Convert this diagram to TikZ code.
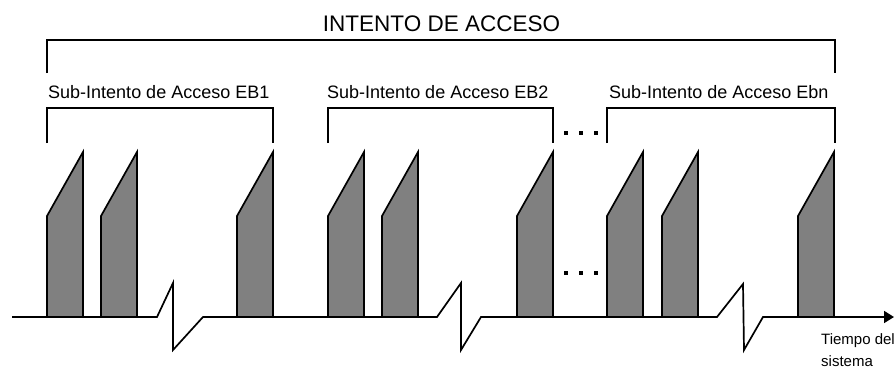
\documentclass[tikz,border=0pt]{standalone}
\usepackage{fontspec}
\setmainfont{Liberation Sans}
\usetikzlibrary{arrows.meta}

\tikzset{
  pulso/.style={draw, fill=gray, line width=1.7pt, line join=miter},
  llave/.style={draw, line width=1.7pt},
  etiq/.style={anchor=base west, inner sep=0pt, font=\fontsize{18}{21}\selectfont},
}

\begin{document}
\begin{tikzpicture}[x=1pt, y=-1pt]
		\useasboundingbox (0,0) rectangle (895,368);
		% titulo y llave principal
		\node[anchor=base, inner sep=0pt, font=\fontsize{22.5}{26}\selectfont] (titulo) at (441.5,31) {INTENTO DE ACCESO};
		\coordinate (a1) at (47,73);
		\coordinate (a2) at (835,73);
		\draw[llave] (a1) |- (titulo.south |- 0,40) -| (a2);
		%
		\node[etiq] (eb1) at (48,98) {Sub-Intento de Acceso EB1};
		\node[etiq] (eb2) at (327,98) {Sub-Intento de Acceso EB2};
		\node[etiq] (ebn) at (609,98) {Sub-Intento de Acceso Ebn};
		\draw[llave] (47,143) -- (47,108) -- (273,108) -- (273,143);
		\draw[llave] (328,143) -- (328,108) -- (553,108) -- (553,143);
		\draw[llave] (607,143) -- (607,108) -- (835,108) -- (835,143);
		% puntos suspensivos
		\foreach \dx in {566,581,596} {
		  \fill (\dx-1.6,131.4) rectangle ++(3.2,3.2);
		  \fill (\dx-1.6,271.4) rectangle ++(3.2,3.2);
		}
		% rafagas
		\foreach \px in {47,101,237,328,382,517,607,662,798} {
		  \draw[pulso] (\px,317) -- (\px,216) -- (\px+36,152) -- (\px+36,317) -- cycle;
		}
		% eje de tiempo con cortes
		\coordinate (o) at (12,317);
		\coordinate (t) at (894,317);
		\draw[line width=1.7pt, line join=miter, -{Triangle[length=10pt,width=12pt]}]
		  (o) -- (157,317) -- (173,283) -- (173,350) -- (203,317)
		  -- (437,317) -- (461,283) -- (461,350) -- (481,317)
		  -- (717,317) -- (743,284) -- (744,350) -- (763,317) -- (t);
		\node[anchor=base west, inner sep=0pt, font=\fontsize{15}{17}\selectfont] (tiempo) at (821,344) {Tiempo del};
		\node[anchor=base west, inner sep=0pt, font=\fontsize{15}{17}\selectfont] (sistema) at (821,366) {sistema};
\end{tikzpicture}
\end{document}
